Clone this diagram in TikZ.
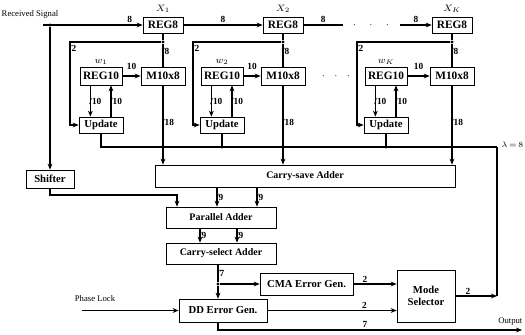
\documentclass[tikz,border=0pt]{standalone}
\usepackage{fontspec}
\setmainfont{Liberation Serif}
\usetikzlibrary{arrows.meta, positioning, calc}

\begin{document}
\begin{tikzpicture}[x=0.75pt, y=-0.75pt, >={Stealth[length=4.5pt,width=3.6pt]},
    blk/.style={draw, line width=0.5pt, inner sep=1pt, font=\fontsize{8.5}{9}\selectfont\bfseries},
    reg/.style={blk, minimum width=30pt, minimum height=12pt},
    wreg/.style={blk, minimum width=31.5pt, minimum height=13.5pt},
    mul/.style={blk, minimum width=33pt, minimum height=13.5pt},
    upd/.style={blk, minimum width=33pt, minimum height=12pt, font=\fontsize{8}{9}\selectfont\bfseries},
    adder/.style={blk, minimum width=82.5pt, minimum height=15.75pt, font=\fontsize{7.5}{9}\selectfont\bfseries},
    errgen/.style={blk, minimum height=16.5pt, font=\fontsize{8}{9}\selectfont\bfseries},
    wire/.style={line width=0.9pt},
    bus/.style={wire, ->},
    wd/.style={font=\fontsize{7}{8}\selectfont\bfseries, inner sep=0.5pt, anchor=west, xshift=-1.6pt},
    lbl/.style={font=\fontsize{7}{8}\selectfont\bfseries, inner sep=1pt},
    sig/.style={font=\fontsize{6.5}{7}\selectfont, inner sep=1pt},
    jn/.style={circle, fill, inner sep=0pt, minimum size=2.6pt}]

  \useasboundingbox (0,0) rectangle (525,335);

  % input register chain
  \node[reg] (x1) at (163,25) {REG8};
  \node[reg] (x2) at (283,25) {REG8};
  \node[reg] (xk) at (452,25) {REG8};
  \node[lbl] (lx1) at (163,9) {$X_1$};
  \node[lbl] (lx2) at (283,9) {$X_2$};
  \node[lbl] (lxk) at (452,9) {$X_K$};

  \coordinate (rs) at (43,25);
  \node[sig] (rstxt) at (30,14) {Received Signal};
  \node[jn] (j0) at (50,25) {};
  \draw[bus] (rs) -- node[lbl, pos=0.87, above] {8} (x1);
  \draw[bus] (x1) -- node[lbl, above] {8} (x2);
  \coordinate (d1) at (343,25);
  \coordinate (d2) at (400,25);
  \draw[wire] (x2) -- node[lbl, above] {8} (d1);
  \node[lbl] (dots1) at (371,25) {$\cdot$\hspace{10pt}$\cdot$\hspace{10pt}$\cdot$};
  \draw[bus] (d2) -- node[lbl, above] {8} (xk);

  % adders
  \node[adder, minimum width=225pt, minimum height=16.5pt] (csa) at (305,176) {Carry-save Adder};
  \node[adder] (pa)  at (221,217.5) {Parallel Adder};
  \node[adder] (csl) at (221,253.5) {Carry-select Adder};
  \node[blk, minimum width=36pt, minimum height=13.5pt, font=\fontsize{8}{9}\selectfont\bfseries] (shf) at (50,179) {Shifter};

  % tap columns
  \foreach \c/\xr/\xm/\xl/\wl in {1/101/163/70/w_1, 2/222/283/193/w_2, k/386/452/357/w_K} {
    \node[wreg] (r\c) at (\xr,76) {REG10};
    \node[mul]  (m\c) at (\xm,76) {M10x8};
    \node[upd]  (u\c) at (\xr,125) {Update};
    \node[lbl]  (w\c) at (\xr,62) {$\wl$};
    \node[jn]   (t\c) at (\xm,42) {};
    \draw[wire] (x\c) -- (t\c);
    \draw[wire] (t\c) -- node[wd, pos=0.35] {/8} (m\c);
    \draw[bus] (t\c) -- (\xl,42) -- node[wd, pos=0.08] {/2} (\xl,125) -- (u\c.west);
    \draw[bus] (r\c) -- node[lbl, above=3pt] {10} (m\c);
    \draw[bus] ([xshift=-8pt]r\c.south) -- node[wd] {/10} ([xshift=-8pt]u\c.north);
    \draw[bus] ([xshift=7.5pt]u\c.north) -- node[wd] {/10} ([xshift=7.5pt]r\c.south);
    \draw[bus] (m\c) -- node[wd, pos=0.47] {/18} (m\c |- csa.north);
  }
  \node[lbl] (dots2) at (336,76) {$\cdot$\hspace{7pt}$\cdot$\hspace{7pt}$\cdot$};

  % step-size bus back to the update blocks
  \coordinate (bc) at (497,147);
  \draw[wire] (u1) |- (bc);
  \draw[wire] (u2) -- (u2 |- bc);
  \draw[wire] (uk) -- (uk |- bc);
  \node[jn] (b2) at (u2 |- bc) {};
  \node[jn] (bk) at (uk |- bc) {};
  \node[jn] (bx) at (mk |- bc) {};
  \node[sig, anchor=west, font=\fontsize{6}{7}\selectfont] (lam) at (500,145) {$\lambda\,{=}\,8$};

  % shifter path
  \draw[bus] (j0) -- (shf);
  \coordinate (sp) at (177,195);
  \draw[bus] (shf.south) |- (sp) -- (sp |- pa.north);

  \foreach \xx in {217,257} {
    \coordinate (q) at (\xx,0);
    \draw[bus] (q |- csa.south) -- node[wd] {/9} (q |- pa.north);
  }
  \foreach \xx in {200,237} {
    \coordinate (q) at (\xx,0);
    \draw[bus] (q |- pa.south) -- node[wd] {/9} (q |- csl.north);
  }

  % error generators and mode selector
  \node[errgen, minimum width=69.75pt] (cma) at (306.5,284) {CMA Error Gen.};
  \node[errgen, minimum width=66pt, minimum height=17.25pt] (dd) at (223,310.5) {DD Error Gen.};
  \node[blk, minimum width=43.5pt, minimum height=39pt, align=center,
        font=\fontsize{8}{9}\selectfont\bfseries] (mode) at (426,296) {Mode\\Selector};

  \node[jn] (jv) at (218,284) {};
  \draw[wire] (jv |- csl.south) -- node[wd] {/7} (jv);
  \draw[bus] (jv) -- (jv |- dd.north);
  \draw[bus] (jv) -- (cma);

  \coordinate (pl) at (82,310.5);
  \node[sig] (pltxt) at (95,299) {Phase Lock};
  \draw[bus] (pl) -- (dd.west);

  \draw[bus] (cma) -- node[lbl, above, pos=0.27] {2} (cma -| mode.west);
  \draw[bus] (dd) -- node[lbl, above, pos=0.75] {2} (dd -| mode.west);
  \draw[wire] (bc) -- (mode.east -| bc);
  \draw[bus] (mode.east) -- node[lbl, above, pos=0.3] {2} (mode.east -| bc);

  \coordinate (outp) at (522,330);
  \draw[bus] (jv |- dd.south) |- (outp);
  \node[lbl] (l7) at (365,324) {7};
  \node[sig, anchor=south east] (outtxt) at (524,327) {Output};
\end{tikzpicture}
\end{document}
